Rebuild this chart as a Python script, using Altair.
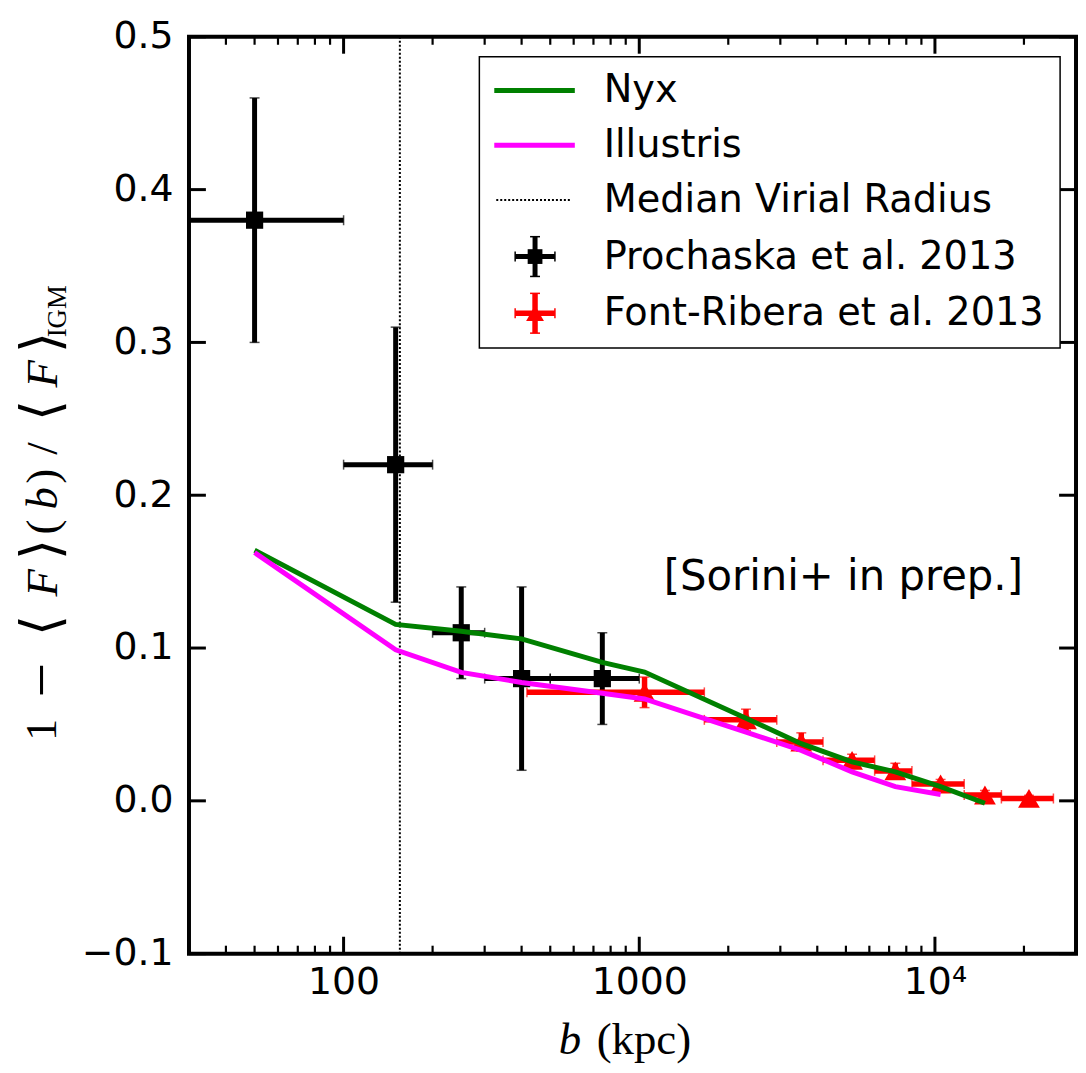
import altair as alt
import pandas as pd

# ---------------- data ----------------
# Prochaska et al. 2013 (black squares)
pro_b = [50, 150, 250, 400, 750]
pro_val = [0.38, 0.22, 0.11, 0.08, 0.08]
pro_b_lo = [10, 100, 200, 300, 500]
pro_b_hi = [100, 200, 300, 500, 1000]
pro_lo = [0.30, 0.13, 0.08, 0.02, 0.05]
pro_hi = [0.46, 0.31, 0.14, 0.14, 0.11]

# Font-Ribera et al. 2013 (red triangles)
fr_b = [1042, 2296, 3532, 5245, 7346, 10450, 14760, 20800]
fr_val = [0.071, 0.053, 0.0385, 0.0265, 0.0196, 0.011, 0.0038, 0.0016]
fr_err = [0.010, 0.007, 0.006, 0.004, 0.005, 0.003, 0.003, 0.002]
fr_b_lo = [417, 1660, 2918, 4183, 6253, 8360, 12560, 16780]
fr_b_hi = [1660, 2918, 4183, 6253, 8360, 12560, 16780, 25160]

# Nyx simulation (green)
nyx_b = [50, 150, 250, 400, 750, 1042, 2296, 3532, 5245, 7346, 10450, 14760]
nyx_v = [0.164, 0.1155, 0.111, 0.106, 0.0906, 0.0843, 0.0541, 0.0374, 0.0255, 0.019, 0.0093, -0.0016]

# Illustris simulation (magenta)
ill_b = [50, 150, 250, 400, 750, 1042, 2296, 3532, 5245, 7346, 10450]
ill_v = [0.1625, 0.0988, 0.0841, 0.0775, 0.0704, 0.0667, 0.045, 0.033, 0.019, 0.0093, 0.0042]

virial_b = [155]

x_major = [100, 1000, 10000]
x_minor = [40, 50, 60, 70, 80, 90, 200, 300, 400, 500, 600, 700, 800, 900,
           2000, 3000, 4000, 5000, 6000, 7000, 8000, 9000, 20000]
y_major = [-0.1, 0.0, 0.1, 0.2, 0.3, 0.4, 0.5]

# ---------------- layout constants ----------------
W, H = 892, 922
GREEN, MAGENTA, RED = "#008000", "#ff00ff", "#ff0000"
SANS = "DejaVu Sans"
SERIF = "Liberation Serif"

xs = alt.Scale(type="log", domain=[30, 30000], nice=False)
ys = alt.Scale(domain=[-0.1, 0.5], nice=False, zero=False)

x_axis = alt.Axis(values=x_major, ticks=False, domain=False, grid=False, title=None,
                  labelFont=SANS, labelFontSize=38, labelColor="black", labelPadding=10,
                  labelExpr="datum.value == 10000 ? '10⁴' : format(datum.value, 'd')")
y_axis = alt.Axis(values=y_major, ticks=False, domain=False, grid=False, title=None,
                  labelFont=SANS, labelFontSize=38, labelColor="black", labelPadding=16,
                  format=".1f")

X = lambda f: alt.X(f, type="quantitative", scale=xs, axis=x_axis)
Y = lambda f: alt.Y(f, type="quantitative", scale=ys, axis=y_axis)

pro = pd.DataFrame(dict(b=pro_b, v=pro_val, blo=pro_b_lo, bhi=pro_b_hi, lo=pro_lo, hi=pro_hi))
fr = pd.DataFrame(dict(b=fr_b, v=fr_val, blo=fr_b_lo, bhi=fr_b_hi,
                       lo=[v - e for v, e in zip(fr_val, fr_err)],
                       hi=[v + e for v, e in zip(fr_val, fr_err)]))
nyx = pd.DataFrame(dict(b=nyx_b, v=nyx_v))
ill = pd.DataFrame(dict(b=ill_b, v=ill_v))
vir = pd.DataFrame(dict(b=virial_b))
one = pd.DataFrame({"a": [0]})


def vcaps(df):
    return pd.concat([df[["b", "lo"]].rename(columns={"lo": "y"}),
                      df[["b", "hi"]].rename(columns={"hi": "y"})])


def hcaps(df):
    return pd.concat([df[["blo", "v"]].rename(columns={"blo": "x"}),
                      df[["bhi", "v"]].rename(columns={"bhi": "x"})])


layers = []

# median virial radius
layers.append(alt.Chart(vir).mark_rule(color="black", strokeWidth=2, strokeDash=[2, 2])
              .encode(x=X("b"), y=alt.value(0), y2=alt.value(H)))


def errbars(df, color, width, marker):
    out = []
    out.append(alt.Chart(df).mark_rule(color=color, strokeWidth=width, clip=True)
               .encode(x=X("blo"), x2="bhi", y=Y("v")))
    out.append(alt.Chart(df).mark_rule(color=color, strokeWidth=width, clip=True)
               .encode(x=X("b"), y=Y("lo"), y2="hi"))
    out.append(alt.Chart(vcaps(df)).mark_tick(color=color, orient="horizontal", size=10, thickness=1.5)
               .encode(x=X("b"), y=Y("y")))
    out.append(alt.Chart(hcaps(df)).mark_tick(color=color, orient="vertical", size=10, thickness=1.5, clip=True)
               .encode(x=X("x"), y=Y("v")))
    out.append(marker.encode(x=X("b"), y=Y("v")))
    return out


layers += errbars(pro, "black", 5, alt.Chart(pro).mark_square(color="black", size=300, opacity=1))
layers += errbars(fr, RED, 5.5, alt.Chart(fr).mark_point(shape="triangle-up", filled=True, color=RED,
                                                          size=480, opacity=1))

# simulation curves
layers.append(alt.Chart(nyx).mark_line(color=GREEN, strokeWidth=5).encode(x=X("b"), y=Y("v")))
layers.append(alt.Chart(ill).mark_line(color=MAGENTA, strokeWidth=5).encode(x=X("b"), y=Y("v")))

# inward ticks on all four sides
xmaj = pd.DataFrame({"t": x_major})
xmin = pd.DataFrame({"t": x_minor})
ymaj = pd.DataFrame({"t": y_major})
for df, L, w in [(xmaj, 17, 3), (xmin, 8, 2.2)]:
    layers.append(alt.Chart(df).mark_rule(color="black", strokeWidth=w)
                  .encode(x=X("t"), y=alt.value(H), y2=alt.value(H - L)))
    layers.append(alt.Chart(df).mark_rule(color="black", strokeWidth=w)
                  .encode(x=X("t"), y=alt.value(0), y2=alt.value(L)))
layers.append(alt.Chart(ymaj).mark_rule(color="black", strokeWidth=3)
              .encode(y=Y("t"), x=alt.value(0), x2=alt.value(17)))
layers.append(alt.Chart(ymaj).mark_rule(color="black", strokeWidth=3)
              .encode(y=Y("t"), x=alt.value(W), x2=alt.value(W - 17)))

# plot frame
layers.append(alt.Chart(one).mark_rect(fill=None, fillOpacity=0, stroke="black", strokeWidth=4)
              .encode(x=alt.value(0), x2=alt.value(W), y=alt.value(0), y2=alt.value(H)))

# annotation
layers.append(alt.Chart(one).mark_text(text="[Sorini+ in prep.]", font=SANS, fontSize=42,
                                       color="black", align="center", baseline="middle")
              .encode(x=alt.value(658), y=alt.value(543)))

# ---------------- legend (drawn by hand) ----------------
LX0, LX1, LY0, LY1 = 292, 876, 20, 313
layers.append(alt.Chart(one).mark_rect(fill="white", stroke="black", strokeWidth=1.5)
              .encode(x=alt.value(LX0), x2=alt.value(LX1), y=alt.value(LY0), y2=alt.value(LY1)))
rows = [54, 109, 164, 221, 278]
labels = ["Nyx", "Illustris", "Median Virial Radius", "Prochaska et al. 2013", "Font-Ribera et al. 2013"]
layers.append(alt.Chart(one).mark_rule(color=GREEN, strokeWidth=5)
              .encode(x=alt.value(307), x2=alt.value(388), y=alt.value(rows[0])))
layers.append(alt.Chart(one).mark_rule(color=MAGENTA, strokeWidth=5)
              .encode(x=alt.value(307), x2=alt.value(388), y=alt.value(rows[1])))
layers.append(alt.Chart(one).mark_rule(color="black", strokeWidth=2, strokeDash=[2, 2])
              .encode(x=alt.value(309), x2=alt.value(384), y=alt.value(rows[2])))
for yy, col, w, shape, sz in [(rows[3], "black", 5, "square", 220), (rows[4], RED, 5.5, "triangle-up", 320)]:
    layers.append(alt.Chart(one).mark_rule(color=col, strokeWidth=w)
                  .encode(x=alt.value(328), x2=alt.value(368), y=alt.value(yy)))
    layers.append(alt.Chart(one).mark_rule(color=col, strokeWidth=w)
                  .encode(x=alt.value(348), y=alt.value(yy - 20), y2=alt.value(yy + 20)))
    for dy in (-20, 20):
        layers.append(alt.Chart(one).mark_rule(color=col, strokeWidth=1.5)
                      .encode(x=alt.value(343), x2=alt.value(353), y=alt.value(yy + dy)))
    for dx in (-20, 20):
        layers.append(alt.Chart(one).mark_rule(color=col, strokeWidth=1.5)
                      .encode(x=alt.value(348 + dx), y=alt.value(yy - 5), y2=alt.value(yy + 5)))
    layers.append(alt.Chart(one).mark_point(shape=shape, filled=True, color=col, size=sz, opacity=1)
                  .encode(x=alt.value(348), y=alt.value(yy)))
for yy, lab in zip(rows, labels):
    layers.append(alt.Chart(one).mark_text(text=lab, font=SANS, fontSize=38.5, color="black",
                                           align="left", baseline="middle")
                  .encode(x=alt.value(417), y=alt.value(yy)))

# ---------------- axis titles (math-style, built from pieces) ----------------
layers.append(alt.Chart(one).mark_text(text="b", font=SERIF, fontStyle="italic", fontSize=45,
                                       color="black", align="center", baseline="alphabetic")
              .encode(x=alt.value(383), y=alt.value(1023)))
layers.append(alt.Chart(one).mark_text(text="(kpc)", font=SERIF, fontSize=45,
                                       color="black", align="left", baseline="alphabetic")
              .encode(x=alt.value(410), y=alt.value(1023)))

# y title: glyph groups along the rotated axis (centre positions, plot pixels, font size)
ytitle_pieces = [("1", False, 697, 44), ("−", False, 647, 62), ("⟨", False, 592, 54),
                 ("F", True, 549, 45), ("⟩", False, 516, 54), ("(", False, 493, 45),
                 ("b", True, 464, 45), (")", False, 442, 45), ("/", False, 414, 45),
                 ("⟨", False, 376, 54), ("F", True, 339, 45), ("⟩", False, 307, 54)]
for txt, ital, yc, fs in ytitle_pieces:
    kw = dict(fontStyle="italic") if ital else {}
    layers.append(alt.Chart(one).mark_text(text=txt, font=SERIF, fontSize=fs, angle=270,
                                           color="black", align="center", baseline="middle", **kw)
                  .encode(x=alt.value(-147), y=alt.value(yc)))
layers.append(alt.Chart(one).mark_text(text="IGM", font=SERIF, fontSize=27, angle=270,
                                       color="black", align="center", baseline="middle")
              .encode(x=alt.value(-132), y=alt.value(276)))

chart = alt.layer(*layers).properties(
    width=W, height=H,
    autosize=alt.AutoSizeParams(type="none"),
    padding={"left": 182, "top": 26, "right": 2, "bottom": 108},
).configure_view(stroke="transparent", strokeWidth=0, fill="white")

chart.save("out.html", embed_options={"renderer": "svg", "actions": False})
